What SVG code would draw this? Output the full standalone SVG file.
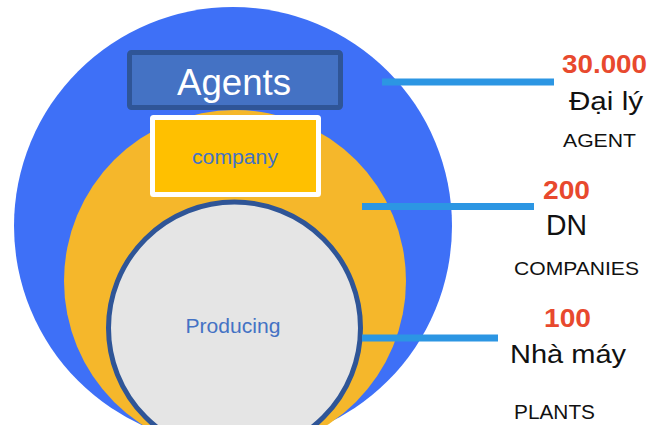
<svg xmlns="http://www.w3.org/2000/svg" width="654" height="425" viewBox="0 0 654 425">
<style>
text{font-family:"Liberation Sans",Arial,sans-serif}
.num{font-weight:bold;fill:#E8492E}
.lbl{fill:#111}
.inner{fill:#4472C4;text-anchor:middle}
.conn{stroke:#2C96E3;stroke-width:7;fill:none}
</style>
<rect width="654" height="425" fill="#ffffff"/>
<g id="agents-circle"><circle cx="233" cy="226" r="219" fill="#3E70F7"/></g>
<g id="companies-circle"><circle cx="235" cy="281" r="171" fill="#F5B72B"/></g>
<g id="producing-circle">
<circle cx="234.5" cy="328" r="126" fill="#E5E5E5" stroke="#2F5597" stroke-width="5"/>
<text class="inner" x="233" y="333" font-size="20" textLength="95" lengthAdjust="spacingAndGlyphs">Producing</text>
</g>
<g id="agents-box">
<rect x="129.5" y="52.5" width="211" height="55" rx="2" fill="#4472C4" stroke="#2F5597" stroke-width="5"/>
<text x="234" y="95" font-size="36" fill="#fff" text-anchor="middle" textLength="114" lengthAdjust="spacingAndGlyphs">Agents</text>
</g>
<g id="company-box">
<rect x="152.5" y="117.5" width="166" height="77" rx="1" fill="#FFC000" stroke="#fff" stroke-width="5"/>
<text class="inner" x="235" y="164" font-size="20" textLength="86" lengthAdjust="spacingAndGlyphs">company</text>
</g>
<g id="connectors">
<line class="conn" x1="382" y1="82" x2="554" y2="82"/>
<line class="conn" x1="362" y1="206.5" x2="534" y2="206.5"/>
<line class="conn" x1="362" y1="338" x2="498" y2="338"/>
</g>
<g id="label-agent">
<text class="num" x="562" y="73" font-size="25" textLength="85" lengthAdjust="spacingAndGlyphs">30.000</text>
<text class="lbl" x="569" y="110" font-size="26" textLength="74" lengthAdjust="spacingAndGlyphs">Đại lý</text>
<text class="lbl" x="563" y="147" font-size="19" textLength="73" lengthAdjust="spacingAndGlyphs">AGENT</text>
</g>
<g id="label-companies">
<text class="num" x="543" y="199" font-size="26" textLength="47" lengthAdjust="spacingAndGlyphs">200</text>
<text class="lbl" x="546" y="235" font-size="29" textLength="41" lengthAdjust="spacingAndGlyphs">DN</text>
<text class="lbl" x="514" y="275" font-size="19" textLength="125" lengthAdjust="spacingAndGlyphs">COMPANIES</text>
</g>
<g id="label-plants">
<text class="num" x="544" y="327" font-size="26" textLength="47" lengthAdjust="spacingAndGlyphs">100</text>
<text class="lbl" x="510" y="363" font-size="26" textLength="116" lengthAdjust="spacingAndGlyphs">Nhà máy</text>
<text class="lbl" x="514" y="419" font-size="20" textLength="81" lengthAdjust="spacingAndGlyphs">PLANTS</text>
</g>
</svg>
